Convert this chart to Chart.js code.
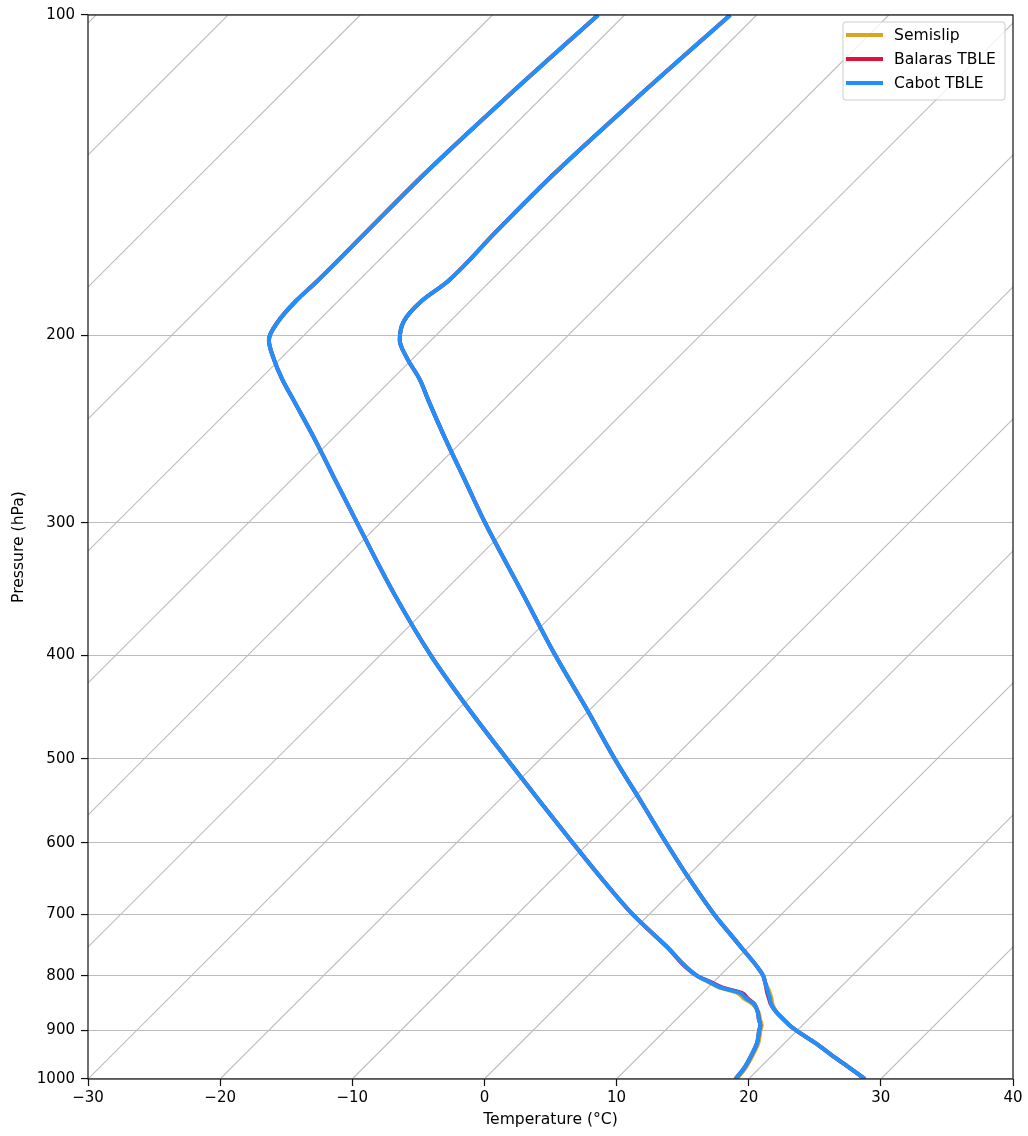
<!DOCTYPE html>
<html>
<head>
<meta charset="utf-8">
<script src="https://cdn.jsdelivr.net/npm/chart.js@4"></script>
<style>
  html, body { margin: 0; padding: 0; background: #fff; }
</style>
</head>
<body>
<canvas id="chart" width="1028" height="1136"></canvas>
<script>
// pressure levels (hPa) shared by every profile
const pressure = [1000, 975, 950, 925, 900, 890, 880, 865, 850, 840, 830, 820, 810, 800, 750, 700, 650, 600,
                  550, 500, 450, 400, 350, 300, 275, 250, 230, 220, 210, 202, 194, 186, 178, 160, 141, 120, 100];

// temperature profiles (°C)
const tempSemislip = [28.8, 26.7, 24.5, 22.3, 19.9, 19.0, 18.2, 17.03, 16.1, 15.62, 15.07, 14.47, 13.85, 13.29, 9.28, 4.89, 0.48, -4.12,
                      -9.02, -14.41, -20.17, -26.7, -33.84, -42.1, -46.59, -51.5, -55.7, -57.9, -60.5, -62.4, -63.5, -63.7, -63.2, -63.3, -63.3, -62.8, -62.0];
const tempBalaras = [28.8, 26.7, 24.5, 22.3, 19.9, 19.0, 18.2, 17.0, 15.97, 15.43, 14.88, 14.37, 13.85, 13.29, 9.28, 4.89, 0.48, -4.12,
                     -9.02, -14.41, -20.17, -26.7, -33.84, -42.1, -46.59, -51.5, -55.7, -57.9, -60.5, -62.4, -63.5, -63.7, -63.2, -63.3, -63.3, -62.8, -62.0];
const tempCabot = [28.8, 26.7, 24.5, 22.3, 19.9, 19.0, 18.2, 17.0, 16.0, 15.5, 14.95, 14.4, 13.85, 13.29, 9.28, 4.89, 0.48, -4.12,
                   -9.02, -14.41, -20.17, -26.7, -33.84, -42.1, -46.59, -51.5, -55.7, -57.9, -60.5, -62.4, -63.5, -63.7, -63.2, -63.3, -63.3, -62.8, -62.0];

// dewpoint profiles (°C)
const dewSemislip = [19.1, 18.9, 18.5, 18.0, 17.2, 16.9, 16.4, 15.65, 14.6, 13.52, 12.62, 10.77, 9.52, 8.29, 3.68, -1.28, -6.12, -11.19,
                     -16.65, -22.58, -29.08, -36.12, -43.58, -51.79, -56.39, -61.4, -65.9, -68.3, -70.6, -72.3, -73.0, -73.2, -73.1, -73.1, -73.1, -72.7, -72.0];
const dewBalaras = [19.0, 18.8, 18.4, 17.9, 17.1, 16.8, 16.3, 15.6, 14.74, 13.82, 12.95, 11.03, 9.68, 8.29, 3.68, -1.28, -6.12, -11.19,
                    -16.65, -22.58, -29.08, -36.12, -43.58, -51.79, -56.39, -61.4, -65.9, -68.3, -70.6, -72.3, -73.0, -73.2, -73.1, -73.1, -73.1, -72.7, -72.0];
const dewCabot = [19.0, 18.8, 18.4, 17.9, 17.1, 16.8, 16.3, 15.6, 14.7, 13.7, 12.8, 10.9, 9.6, 8.29, 3.68, -1.28, -6.12, -11.19,
                  -16.65, -22.58, -29.08, -36.12, -43.58, -51.79, -56.39, -61.4, -65.9, -68.3, -70.6, -72.3, -73.0, -73.2, -73.1, -73.1, -73.1, -72.7, -72.0];

const seriesNames = ['Semislip', 'Balaras TBLE', 'Cabot TBLE'];
const seriesColors = ['#daa520', '#dc143c', '#1e90ff'];
const seriesTemps = [tempSemislip, tempBalaras, tempCabot];
const seriesDews = [dewSemislip, dewBalaras, dewCabot];

const isotherms = [-120, -110, -100, -90, -80, -70, -60, -50, -40, -30, -20, -10, 0, 10, 20, 30, 40];
const xTicks = [-30, -20, -10, 0, 10, 20, 30, 40];
const yTicks = [100, 200, 300, 400, 500, 600, 700, 800, 900, 1000];

// skew-T: isotherms run at 45 degrees, i.e. ~80.6 °C per pressure decade on this canvas
const SKEW = 80.6;
const skewX = (t, p) => t + SKEW * Math.log10(1000 / p);
const profile = temps => temps.map((t, i) => ({ x: skewX(t, pressure[i]), y: pressure[i] }));

const FONT = 'DejaVu Sans';
const GRID = '#bcbcbc';
Chart.defaults.font.family = FONT;
Chart.defaults.font.size = 15;
Chart.defaults.color = '#000';

const datasets = [];
// higher "order" is drawn underneath, so Cabot ends up on top
[2, 1, 0].forEach((s, k) => {
    [seriesTemps[s], seriesDews[s]].forEach(arr => {
        datasets.push({
            label: seriesNames[s],
            data: profile(arr),
            indexAxis: 'y',
            borderColor: seriesColors[s],
            borderWidth: 4,
            pointRadius: 0,
            cubicInterpolationMode: 'monotone',
            borderJoinStyle: 'round',
            clip: 0,
            order: k
        });
    });
});
isotherms.forEach(t => {
    datasets.push({
        label: 'iso' + t,
        data: [{ x: skewX(t, 1000), y: 1000 }, { x: skewX(t, 100), y: 100 }],
        indexAxis: 'y',
        borderColor: GRID,
        borderWidth: 1.1,
        pointRadius: 0,
        clip: 0,
        order: 10
    });
});

// axes frame and legend box
const frameAndLegend = {
    id: 'frameAndLegend',
    afterDatasetsDraw(chart) {
        const { ctx, chartArea: a } = chart;
        ctx.save();
        ctx.strokeStyle = '#111';
        ctx.lineWidth = 1.2;
        ctx.strokeRect(a.left, a.top, a.right - a.left, a.bottom - a.top);
        ctx.restore();
    },
    afterDraw(chart) {
        const { ctx, chartArea: a } = chart;
        const w = 162, h = 78;
        const bx = a.right - 8 - w, by = a.top + 7, r = 3;
        ctx.save();
        ctx.beginPath();
        ctx.moveTo(bx + r, by);
        ctx.arcTo(bx + w, by, bx + w, by + h, r);
        ctx.arcTo(bx + w, by + h, bx, by + h, r);
        ctx.arcTo(bx, by + h, bx, by, r);
        ctx.arcTo(bx, by, bx + w, by, r);
        ctx.closePath();
        ctx.fillStyle = 'rgba(255,255,255,0.8)';
        ctx.fill();
        ctx.strokeStyle = '#cccccc';
        ctx.lineWidth = 1;
        ctx.stroke();

        ctx.font = '15.6px "' + FONT + '"';
        ctx.textBaseline = 'middle';
        ctx.textAlign = 'left';
        seriesNames.forEach((name, i) => {
            const y = by + 13 + i * 24;
            ctx.strokeStyle = seriesColors[i];
            ctx.lineWidth = 4;
            ctx.beginPath();
            ctx.moveTo(bx + 3, y);
            ctx.lineTo(bx + 40, y);
            ctx.stroke();
            ctx.fillStyle = '#000';
            ctx.fillText(name, bx + 51, y + 1);
        });
        ctx.restore();
    }
};

new Chart(document.getElementById('chart'), {
    type: 'line',
    data: { datasets },
    options: {
        responsive: false,
        animation: false,
        layout: { padding: { top: 14, right: 15, left: 0, bottom: 0 } },
        plugins: { legend: { display: false }, tooltip: { enabled: false } },
        scales: {
            x: {
                type: 'linear',
                min: -30,
                max: 40,
                afterFit: s => { s.height = 57; },
                afterBuildTicks: s => { s.ticks = xTicks.map(v => ({ value: v })); },
                ticks: {
                    padding: 3,
                    maxRotation: 0,
                    callback: v => String(v).replace('-', '\u2212')
                },
                grid: { drawOnChartArea: false, tickColor: '#111', tickLength: 7, tickWidth: 1.2 },
                border: { display: false },
                title: { display: true, text: 'Temperature (°C)', font: { size: 15.6 }, padding: { top: 0, bottom: 7 } }
            },
            y: {
                type: 'logarithmic',
                reverse: true,
                min: 100,
                max: 1000,
                afterFit: s => { s.width = 88; },
                afterBuildTicks: s => { s.ticks = yTicks.map(v => ({ value: v })); },
                ticks: { padding: 6, callback: v => String(v) },
                grid: { color: GRID, lineWidth: 1.1, tickColor: '#111', tickLength: 7, tickWidth: 1.2 },
                border: { display: false },
                title: { display: true, text: 'Pressure (hPa)', font: { size: 15.6 }, padding: { top: 10, bottom: 0 } }
            }
        }
    },
    plugins: [frameAndLegend]
});
</script>
</body>
</html>
